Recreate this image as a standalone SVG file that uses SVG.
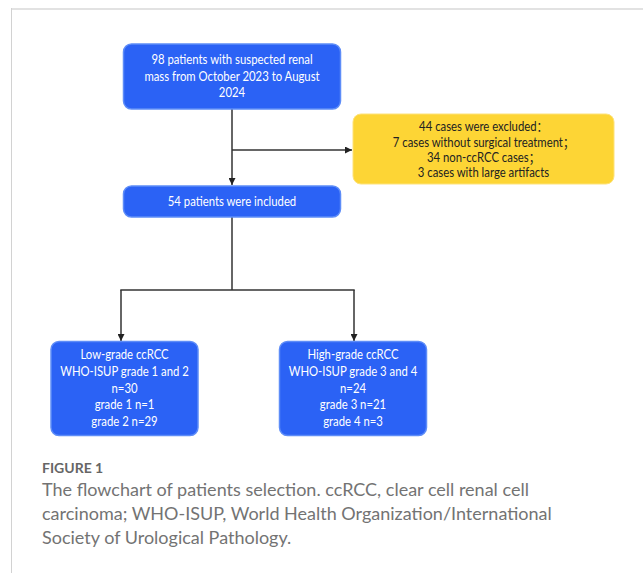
<svg xmlns="http://www.w3.org/2000/svg" width="643" height="573" viewBox="0 0 643 573">
<defs>
<marker id="ah" viewBox="0 0 10 10" refX="10" refY="5" markerWidth="7" markerHeight="7" markerUnits="userSpaceOnUse" orient="auto">
<path d="M0,0 L10,5 L0,10 z" fill="#222"/>
</marker>
<style>
.blue{fill:#2B62F5;stroke:#5E8DF8;stroke-width:1.5}
.yel{fill:#FDD535;stroke:#FDE27A;stroke-width:1}
.wt{font-family:Lato,"Noto Sans","Noto Sans CJK SC",sans-serif;font-size:12.6px;fill:#fff;text-anchor:middle}
.dt{font-family:Lato,"Noto Sans","Noto Sans CJK SC",sans-serif;font-size:12.6px;fill:#222;text-anchor:middle}
.ln{fill:none;stroke:#333;stroke-width:1.5}
.cap{font-family:Lato,"Noto Sans",sans-serif;font-size:18px;fill:#737373}
</style>
</defs>
<rect width="643" height="573" fill="#fff"/>
<line x1="11" y1="9" x2="643" y2="9" stroke="#e2e2e2" stroke-width="2"/>
<line x1="11.5" y1="8" x2="11.5" y2="573" stroke="#d2d2d2" stroke-width="1"/>
<g id="connectors">
<line class="ln" x1="232" y1="109" x2="232" y2="185" marker-end="url(#ah)"/>
<line class="ln" x1="232" y1="150" x2="352" y2="150" marker-end="url(#ah)"/>
<line class="ln" x1="232" y1="217" x2="232" y2="290"/>
<line class="ln" x1="120.3" y1="290" x2="354.7" y2="290"/>
<line class="ln" x1="121" y1="290" x2="121" y2="341" marker-end="url(#ah)"/>
<line class="ln" x1="354" y1="290" x2="354" y2="341" marker-end="url(#ah)"/>
</g>
<g id="n1">
<rect class="blue" x="123.5" y="44" width="217" height="65" rx="8"/>
<g transform="translate(232 0) scale(0.9 1)">
<text class="wt" x="0" y="64.5">98 patients with suspected renal</text>
<text class="wt" x="0" y="81">mass from October 2023 to August</text>
<text class="wt" x="0" y="97.5">2024</text>
</g>
</g>
<g id="n2">
<rect class="yel" x="353" y="114" width="261" height="70" rx="8"/>
<g transform="translate(483.5 0) scale(0.9 1)">
<text class="dt" x="0" y="131.5">44 cases were excluded：</text>
<text class="dt" x="0" y="147">7 cases without surgical treatment；</text>
<text class="dt" x="0" y="162">34 non-ccRCC cases；</text>
<text class="dt" x="0" y="177">3 cases with large artifacts</text>
</g>
</g>
<g id="n3">
<rect class="blue" x="123.5" y="186" width="217" height="31" rx="8"/>
<g transform="translate(232 0) scale(0.9 1)">
<text class="wt" x="0" y="206">54 patients were included</text>
</g>
</g>
<g id="n4">
<rect class="blue" x="51" y="341.5" width="147" height="94" rx="8"/>
<g transform="translate(124.5 0) scale(0.9 1)">
<text class="wt" x="0" y="359.5">Low-grade ccRCC</text>
<text class="wt" x="0" y="376">WHO-ISUP grade 1 and 2</text>
<text class="wt" x="0" y="392.7">n=30</text>
<text class="wt" x="0" y="409.4">grade 1 n=1</text>
<text class="wt" x="0" y="426">grade 2 n=29</text>
</g>
</g>
<g id="n5">
<rect class="blue" x="279.5" y="341.5" width="147" height="94" rx="8"/>
<g transform="translate(353 0) scale(0.9 1)">
<text class="wt" x="0" y="359.5">High-grade ccRCC</text>
<text class="wt" x="0" y="376">WHO-ISUP grade 3 and 4</text>
<text class="wt" x="0" y="392.7">n=24</text>
<text class="wt" x="0" y="409.4">grade 3 n=21</text>
<text class="wt" x="0" y="426">grade 4 n=3</text>
</g>
</g>
<g id="caption">
<text x="42" y="472.5" font-family="Lato,'Noto Sans',sans-serif" font-size="14px" font-weight="bold" fill="#666">FIGURE 1</text>
<text class="cap" x="42" y="496">The flowchart of patients selection. ccRCC, clear cell renal cell</text>
<text class="cap" x="42" y="520">carcinoma; WHO-ISUP, World Health Organization/International</text>
<text class="cap" x="42" y="544">Society of Urological Pathology.</text>
</g>
</svg>
